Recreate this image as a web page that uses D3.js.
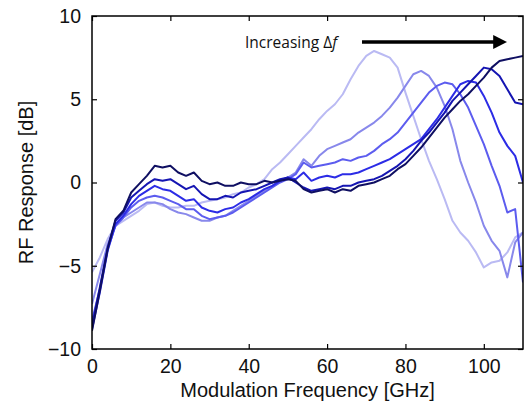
<!DOCTYPE html>
<html>
<head>
<meta charset="utf-8">
<script src="https://cdn.jsdelivr.net/npm/d3@7"></script>
<style>
  body { margin: 0; background: #fff; }
  #chart { width: 525px; height: 410px; }
  text { font-family: "Liberation Sans", Arial, sans-serif; }
</style>
</head>
<body>
<div id="chart"></div>
<script>
// frequency points (GHz)
const freq = d3.range(0, 111, 2);

// RF response (dB), lightest -> darkest (increasing delta f)
const s1 = [-5.4,-4.5,-3.4,-2.6,-2.3,-2.0,-1.7,-1.3,-1.2,-1.4,-1.5,-1.5,-1.4,-1.4,-1.2,-1.1,-1.0,-0.9,-0.7,-0.6,-0.3,-0.1,0.2,0.8,1.2,1.7,2.2,2.7,3.2,3.8,4.3,4.7,5.3,6.2,7.0,7.6,7.9,7.7,7.5,6.9,5.4,4.0,2.6,1.3,0.2,-1.0,-2.3,-3.0,-3.5,-4.2,-5.1,-4.8,-4.7,-4.2,-3.3,-3.0];
const s2 = [-7.3,-5.5,-3.7,-2.6,-2.1,-1.8,-1.5,-1.2,-1.2,-1.3,-1.6,-1.8,-1.9,-2.1,-2.3,-2.3,-2.1,-2.0,-1.7,-1.4,-1.1,-0.8,-0.5,-0.2,0.1,0.3,0.6,1.4,1.0,1.6,2.0,2.2,2.4,2.6,3.0,3.3,3.6,4.0,4.5,5.1,5.8,6.5,6.7,6.4,5.7,4.6,3.2,1.3,0.0,-1.2,-2.6,-3.5,-4.1,-5.7,-3.6,-3.0];
const s3 = [-8.3,-6.4,-4.0,-2.6,-2.1,-1.5,-1.1,-0.9,-0.8,-0.9,-1.1,-1.3,-1.6,-1.6,-2.0,-2.2,-2.1,-2.0,-1.8,-1.5,-1.2,-0.9,-0.6,-0.3,0.0,0.2,0.5,1.2,0.9,1.0,1.1,1.2,1.4,1.3,1.5,1.6,1.9,2.3,2.6,3.0,3.6,4.2,4.8,5.4,5.8,6.0,5.9,5.3,4.5,3.4,2.3,1.0,-0.2,-1.8,-1.6,-6.0];
const s4 = [-8.8,-6.6,-4.1,-2.5,-2.0,-1.3,-0.8,-0.5,-0.2,-0.4,-0.5,-0.8,-1.1,-1.0,-1.5,-1.7,-1.8,-1.6,-1.5,-1.2,-1.0,-0.7,-0.4,-0.2,0.1,0.3,0.2,0.6,0.1,0.3,0.4,0.3,0.5,0.5,0.6,0.8,1.0,1.2,1.4,1.7,2.0,2.3,2.6,3.2,3.8,4.5,5.2,5.9,6.1,6.0,5.2,4.2,3.0,2.2,1.6,0.0];
const s5 = [-8.6,-6.3,-3.9,-2.3,-1.8,-0.9,-0.5,-0.1,0.2,0.1,0.2,-0.1,-0.4,-0.2,-0.7,-1.0,-1.0,-0.8,-0.9,-0.6,-0.5,-0.4,-0.2,0.0,0.2,0.3,0.0,-0.3,-0.5,-0.4,-0.3,-0.4,-0.2,-0.2,0.0,0.1,0.2,0.4,0.7,1.0,1.4,1.9,2.5,3.0,3.6,4.2,4.9,5.4,5.9,6.4,6.9,6.8,6.4,5.6,4.8,4.7];
const s6 = [-8.9,-6.5,-4.0,-2.2,-1.7,-0.6,-0.1,0.4,1.0,0.9,1.0,0.6,0.4,0.6,0.1,-0.1,0.0,-0.2,-0.2,0.0,-0.1,-0.1,0.1,0.0,0.1,0.2,0.1,-0.4,-0.6,-0.5,-0.4,-0.6,-0.4,-0.5,-0.2,-0.1,0.0,0.2,0.4,0.8,1.1,1.6,2.1,2.7,3.3,3.9,4.4,4.9,5.3,5.8,6.3,6.9,7.3,7.4,7.5,7.6];

const seriesValues = [s1, s2, s3, s4, s5, s6];
const seriesColors = ["#babaf3", "#8888eb", "#5c5cef", "#2c2ce6", "#1515b2", "#0f0f62"];

const xTicks = [0, 20, 40, 60, 80, 100];
const yTicks = [-10, -5, 0, 5, 10];

const w = 525, h = 410;
const margin = { top: 16, right: 2, bottom: 61, left: 92 };
const width = w - margin.left - margin.right;
const height = h - margin.top - margin.bottom;

const svg = d3.select("#chart").append("svg")
    .attr("width", w)
    .attr("height", h);

const g = svg.append("g")
    .attr("transform", "translate(" + margin.left + "," + margin.top + ")");

// SCALES
const x = d3.scaleLinear().domain([0, 110]).range([0, width]);
const y = d3.scaleLinear().domain([-10, 10]).range([height, 0]);

g.append("clipPath").attr("id", "clip")
    .append("rect").attr("width", width).attr("height", height);

// LINES
const line = d3.line()
    .x((d, i) => x(freq[i]))
    .y(d => y(d));

g.append("g").attr("clip-path", "url(#clip)")
    .selectAll("path")
    .data(seriesValues).enter().append("path")
    .attr("d", d => line(d))
    .attr("fill", "none")
    .attr("stroke", (d, i) => seriesColors[i])
    .attr("stroke-width", 2)
    .attr("stroke-linejoin", "round");

// AXES (box with inward ticks)
const styleAxis = sel => {
    sel.select(".domain").remove();
    sel.selectAll("line").attr("stroke", "#000").attr("stroke-width", 1.2);
    sel.selectAll("text").attr("font-size", 19.5).attr("fill", "#111");
};

g.append("g")
    .attr("transform", "translate(0," + height + ")")
    .call(d3.axisBottom(x).tickValues(xTicks).tickSizeInner(-5).tickSizeOuter(0).tickPadding(10))
    .call(styleAxis);

g.append("g")
    .call(d3.axisTop(x).tickValues(xTicks).tickSizeInner(-5).tickSizeOuter(0).tickFormat(""))
    .call(styleAxis);

g.append("g")
    .call(d3.axisLeft(y).tickValues(yTicks).tickSizeInner(-5).tickSizeOuter(0).tickPadding(11))
    .call(styleAxis);

g.append("g")
    .attr("transform", "translate(" + width + ",0)")
    .call(d3.axisRight(y).tickValues(yTicks).tickSizeInner(-5).tickSizeOuter(0).tickFormat(""))
    .call(styleAxis);

g.append("rect")
    .attr("width", width).attr("height", height)
    .attr("fill", "none").attr("stroke", "#000").attr("stroke-width", 1.5);

// AXIS TITLES
svg.append("text")
    .attr("x", margin.left + width / 2)
    .attr("y", 397)
    .attr("text-anchor", "middle")
    .attr("font-size", 20)
    .attr("fill", "#111")
    .text("Modulation Frequency [GHz]");

svg.append("text")
    .attr("transform", "translate(33," + (margin.top + height / 2) + ") rotate(-90)")
    .attr("text-anchor", "middle")
    .attr("font-size", 20)
    .attr("fill", "#111")
    .text("RF Response [dB]");

// ANNOTATION
svg.append("defs").append("marker")
    .attr("id", "arrow")
    .attr("viewBox", "0 0 10 10")
    .attr("refX", 2).attr("refY", 5)
    .attr("markerWidth", 4).attr("markerHeight", 4)
    .attr("orient", "auto")
    .append("path").attr("d", "M0,0 L10,5 L0,10 z").attr("fill", "#000");

const ann = svg.append("text")
    .attr("x", 245)
    .attr("y", 48)
    .attr("font-size", 15.5)
    .style("font-family", "'Open Sans', sans-serif")
    .attr("fill", "#111");
ann.append("tspan").text("Increasing Δ");
ann.append("tspan").attr("font-style", "italic").text("f");

svg.append("line")
    .attr("x1", 362).attr("y1", 42)
    .attr("x2", 496).attr("y2", 42)
    .attr("stroke", "#000").attr("stroke-width", 3.5)
    .attr("marker-end", "url(#arrow)");
</script>
</body>
</html>
